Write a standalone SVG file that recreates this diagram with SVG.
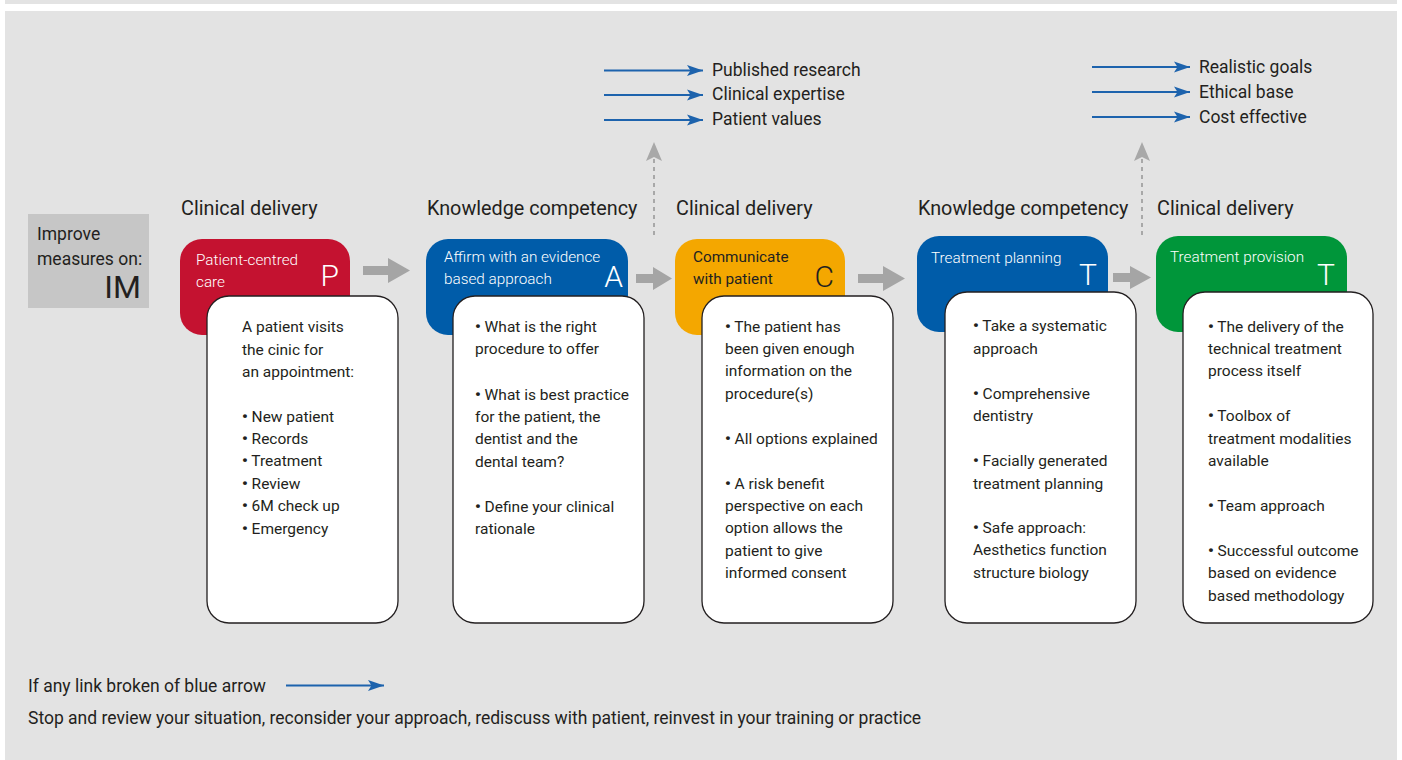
<svg xmlns="http://www.w3.org/2000/svg" width="1402" height="760" viewBox="0 0 1402 760">
  <style>
    text { font-family: Roboto, "Liberation Sans", "DejaVu Sans", sans-serif; font-weight: 400; fill: #231f20; }
    .hdr { font-size: 19.8px; }
    .ttl { font-size: 15.3px; font-weight: 300; fill: #ffffff; }
    .ttl.dark { fill: #231f20; font-weight: 400; }
    .big { font-size: 30px; font-weight: 300; fill: #ffffff; text-anchor: end; }
    .big.dark { fill: #231f20; }
    .body { font-size: 15.5px; }
    .b { font-weight: 900; }
    .lbl { font-size: 17.5px; }
    .card { fill: #ffffff; stroke: #231f20; stroke-width: 1.3; }
    .blue { stroke: #1d63ad; stroke-width: 2.2; fill: none; }
    .step { fill: #a5a5a5; }
    .dash { stroke: #a8a8a8; stroke-width: 2; stroke-dasharray: 4 4; fill: none; }
  </style>
  <defs>
    <marker id="bluehead" markerUnits="userSpaceOnUse" markerWidth="16" markerHeight="12" refX="16" refY="6" orient="auto">
      <path d="M0,0.5 L16,6 L0,11.5 L3.5,6 z" fill="#1d63ad"/>
    </marker>
  </defs>

  <!-- page background -->
  <rect x="0" y="0" width="1402" height="760" fill="#ffffff"/>
  <rect x="5" y="0" width="1392" height="4" fill="#e3e3e3"/>
  <rect x="5" y="11" width="1392" height="749" fill="#e3e3e3"/>

  <!-- stage headings -->
  <g id="headings">
    <text class="hdr" x="181" y="215">Clinical delivery</text>
    <text class="hdr" x="427" y="215">Knowledge competency</text>
    <text class="hdr" x="676" y="215">Clinical delivery</text>
    <text class="hdr" x="918" y="215">Knowledge competency</text>
    <text class="hdr" x="1157" y="215">Clinical delivery</text>
  </g>

  <!-- improve measures box -->
  <g id="im">
    <rect x="28" y="214" width="121" height="94" fill="#c6c6c6"/>
    <text class="lbl" x="37" y="240">Improve</text>
    <text class="lbl" x="37" y="265">measures on:</text>
    <text x="141" y="298" font-size="32" font-weight="300" text-anchor="end">IM</text>
  </g>

  <!-- evidence outcome lists -->
  <g id="evidence">
    <text class="lbl" x="712" y="76">Published research</text>
    <text class="lbl" x="712" y="100">Clinical expertise</text>
    <text class="lbl" x="712" y="125">Patient values</text>
  </g>
  <g id="goals">
    <text class="lbl" x="1199" y="73">Realistic goals</text>
    <text class="lbl" x="1199" y="98">Ethical base</text>
    <text class="lbl" x="1199" y="123">Cost effective</text>
  </g>

  <!-- node P -->
  <g id="node-p">
    <rect x="180" y="239" width="170" height="96" rx="22" fill="#c41230"/>
    <text class="ttl" x="196" y="265">Patient-centred</text>
    <text class="ttl" x="196" y="287">care</text>
    <text class="big" x="339" y="286">P</text>
    <rect class="card" x="207" y="296" width="191" height="327" rx="22"/>
    <text class="body" x="242" y="332">A patient visits</text>
    <text class="body" x="242" y="355">the cinic for</text>
    <text class="body" x="242" y="377">an appointment:</text>
    <text class="body" x="242" y="422"><tspan class="b">•</tspan> New patient</text>
    <text class="body" x="242" y="444"><tspan class="b">•</tspan> Records</text>
    <text class="body" x="242" y="466"><tspan class="b">•</tspan> Treatment</text>
    <text class="body" x="242" y="489"><tspan class="b">•</tspan> Review</text>
    <text class="body" x="242" y="511"><tspan class="b">•</tspan> 6M check up</text>
    <text class="body" x="242" y="534"><tspan class="b">•</tspan> Emergency</text>
  </g>

  <!-- node A -->
  <g id="node-a">
    <rect x="426" y="239" width="202" height="96" rx="22" fill="#005ca9"/>
    <text class="ttl" x="444" y="262">Affirm with an evidence</text>
    <text class="ttl" x="444" y="284">based approach</text>
    <text class="big" x="623" y="287">A</text>
    <rect class="card" x="453" y="296" width="191" height="327" rx="22"/>
    <text class="body" x="475" y="332"><tspan class="b">•</tspan> What is the right</text>
    <text class="body" x="475" y="354">procedure to offer</text>
    <text class="body" x="475" y="400"><tspan class="b">•</tspan> What is best practice</text>
    <text class="body" x="475" y="422">for the patient, the</text>
    <text class="body" x="475" y="444">dentist and the</text>
    <text class="body" x="475" y="467">dental team?</text>
    <text class="body" x="475" y="512"><tspan class="b">•</tspan> Define your clinical</text>
    <text class="body" x="475" y="534">rationale</text>
  </g>

  <!-- node C -->
  <g id="node-c">
    <rect x="675" y="239" width="170" height="96" rx="22" fill="#f4a700"/>
    <text class="ttl dark" x="693" y="262">Communicate</text>
    <text class="ttl dark" x="693" y="284">with patient</text>
    <text class="big dark" x="834" y="287">C</text>
    <rect class="card" x="702" y="296" width="191" height="327" rx="22"/>
    <text class="body" x="725" y="332"><tspan class="b">•</tspan> The patient has</text>
    <text class="body" x="725" y="354">been given enough</text>
    <text class="body" x="725" y="376">information on the</text>
    <text class="body" x="725" y="399">procedure(s)</text>
    <text class="body" x="725" y="444"><tspan class="b">•</tspan> All options explained</text>
    <text class="body" x="725" y="489"><tspan class="b">•</tspan> A risk benefit</text>
    <text class="body" x="725" y="511">perspective on each</text>
    <text class="body" x="725" y="533">option allows the</text>
    <text class="body" x="725" y="556">patient to give</text>
    <text class="body" x="725" y="578">informed consent</text>
  </g>

  <!-- node T (planning) -->
  <g id="node-t1">
    <rect x="917" y="236" width="191" height="96" rx="22" fill="#005ca9"/>
    <text class="ttl" x="931" y="263">Treatment planning</text>
    <text class="big" x="1097" y="285">T</text>
    <rect class="card" x="945" y="292" width="191" height="331" rx="22"/>
    <text class="body" x="973" y="331"><tspan class="b">•</tspan> Take a systematic</text>
    <text class="body" x="973" y="354">approach</text>
    <text class="body" x="973" y="399"><tspan class="b">•</tspan> Comprehensive</text>
    <text class="body" x="973" y="421">dentistry</text>
    <text class="body" x="973" y="466"><tspan class="b">•</tspan> Facially generated</text>
    <text class="body" x="973" y="489">treatment planning</text>
    <text class="body" x="973" y="533"><tspan class="b">•</tspan> Safe approach:</text>
    <text class="body" x="973" y="555">Aesthetics function</text>
    <text class="body" x="973" y="578">structure biology</text>
  </g>

  <!-- node T (provision) -->
  <g id="node-t2">
    <rect x="1156" y="236" width="191" height="96" rx="22" fill="#00963a"/>
    <text class="ttl" x="1170" y="262">Treatment provision</text>
    <text class="big" x="1335" y="285">T</text>
    <rect class="card" x="1183" y="292" width="190" height="331" rx="22"/>
    <text class="body" x="1208" y="332"><tspan class="b">•</tspan> The delivery of the</text>
    <text class="body" x="1208" y="354">technical treatment</text>
    <text class="body" x="1208" y="376">process itself</text>
    <text class="body" x="1208" y="421"><tspan class="b">•</tspan> Toolbox of</text>
    <text class="body" x="1208" y="444">treatment modalities</text>
    <text class="body" x="1208" y="466">available</text>
    <text class="body" x="1208" y="511"><tspan class="b">•</tspan> Team approach</text>
    <text class="body" x="1208" y="556"><tspan class="b">•</tspan> Successful outcome</text>
    <text class="body" x="1208" y="578">based on evidence</text>
    <text class="body" x="1208" y="601">based methodology</text>
  </g>

  <!-- connectors -->
  <g id="connectors">
    <!-- step arrows between stages -->
    <polygon class="step" points="363,266 388,266 388,258 410,270.5 388,283 388,275 363,275"/>
    <polygon class="step" points="636,274 653,274 653,267 672,278.5 653,290 653,283 636,283"/>
    <polygon class="step" points="858,274 883,274 883,266 905,278.5 883,291 883,283 858,283"/>
    <polygon class="step" points="1113,273 1130,273 1130,266 1151,277.5 1130,289 1130,282 1113,282"/>

    <!-- dotted links up to outcome lists -->
    <line class="dash" x1="654" y1="235" x2="654" y2="158"/>
    <polygon fill="#a8a8a8" points="654,142 662,161 654,157 646,161"/>
    <line class="dash" x1="1142" y1="235" x2="1142" y2="158"/>
    <polygon fill="#a8a8a8" points="1142,142 1150,161 1142,157 1134,161"/>

    <!-- evidence links -->
    <line class="blue" x1="604" y1="70.5" x2="703" y2="70.5" marker-end="url(#bluehead)"/>
    <line class="blue" x1="604" y1="95" x2="703" y2="95" marker-end="url(#bluehead)"/>
    <line class="blue" x1="604" y1="120" x2="703" y2="120" marker-end="url(#bluehead)"/>
    <line class="blue" x1="1092" y1="67" x2="1190" y2="67" marker-end="url(#bluehead)"/>
    <line class="blue" x1="1092" y1="92" x2="1190" y2="92" marker-end="url(#bluehead)"/>
    <line class="blue" x1="1092" y1="117" x2="1190" y2="117" marker-end="url(#bluehead)"/>

    <!-- legend link -->
    <line class="blue" x1="286" y1="685.5" x2="384" y2="685.5" marker-end="url(#bluehead)"/>
  </g>

  <!-- footnote -->
  <g id="footnote">
    <text class="lbl" x="28" y="692">If any link broken of blue arrow</text>
    <text class="lbl" x="28" y="724">Stop and review your situation, reconsider your approach, rediscuss with patient, reinvest in your training or practice</text>
  </g>
</svg>
